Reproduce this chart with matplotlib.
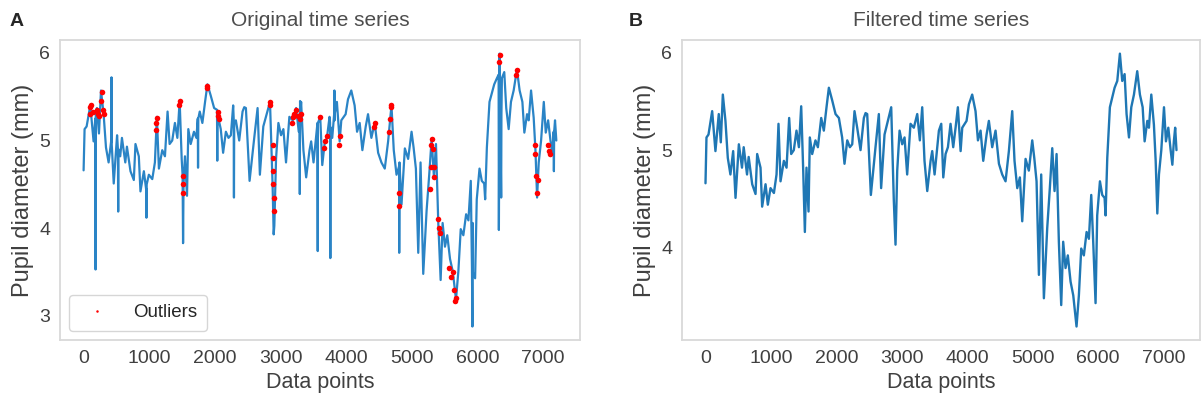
import numpy as np
import matplotlib
matplotlib.use("Agg")
import matplotlib.pyplot as plt
import seaborn as sns

# filtered pupil trace (index, mm)
filt_idx = [0, 15, 46, 102, 152, 203, 234, 265, 305, 341, 381, 423, 459, 510, 558, 584,
            635, 660, 714, 765, 790, 841, 866, 918, 953, 994, 1046, 1086, 1116, 1147, 1198,
            1239, 1279, 1310, 1350, 1391, 1428, 1463, 1494, 1519, 1544, 1575, 1595, 1631,
            1681, 1718, 1769, 1809, 1850, 1886, 1937, 1988, 2039, 2089, 2125, 2167, 2207,
            2243, 2278, 2319, 2370, 2421, 2447, 2472, 2528, 2599, 2650, 2685, 2737, 2788,
            2839, 2879, 2905, 2931, 2967, 3007, 3043, 3083, 3134, 3185, 3237, 3277, 3313,
            3348, 3390, 3441, 3466, 3502, 3568, 3604, 3635, 3670, 3706, 3746, 3787, 3823,
            3858, 3900, 3925, 3991, 4027, 4077, 4128, 4165, 4205, 4246, 4297, 4332, 4383,
            4434, 4486, 4536, 4587, 4638, 4689, 4724, 4766, 4806, 4842, 4893, 4943, 4995,
            5026, 5061, 5097, 5132, 5173, 5224, 5264, 5301, 5336, 5367, 5402, 5438, 5468,
            5504, 5539, 5581, 5622, 5672, 5708, 5744, 5784, 5826, 5861, 5897, 5927, 5963,
            5988, 6030, 6065, 6101, 6116, 6142, 6182, 6218, 6254, 6295, 6335, 6371, 6407,
            6437, 6474, 6509, 6550, 6600, 6641, 6683, 6713, 6754, 6779, 6815, 6855, 6882,
            6907, 6932, 6968, 7009, 7039, 7075, 7111, 7137, 7160, 7180, 7200]
filt_val = [4.66, 5.13, 5.16, 5.40, 4.99, 5.37, 5.08, 5.57, 5.30, 4.92, 4.75, 4.99, 4.51,
            5.06, 4.82, 5.03, 4.75, 4.93, 4.65, 4.55, 4.96, 4.82, 4.42, 4.65, 4.44, 4.61,
            4.56, 4.75, 5.27, 4.68, 4.89, 4.82, 5.33, 4.96, 5.00, 5.20, 5.03, 5.45, 4.79,
            4.16, 4.82, 4.37, 5.13, 4.96, 5.10, 5.03, 5.33, 5.20, 5.44, 5.64, 5.51, 5.37,
            5.33, 5.13, 4.86, 5.10, 5.03, 5.06, 5.40, 5.23, 5.00, 5.33, 5.38, 5.37, 4.54,
            5.03, 5.37, 4.61, 5.16, 5.30, 5.44, 4.48, 4.03, 4.79, 5.20, 5.06, 5.13, 4.75,
            5.27, 5.23, 5.37, 5.10, 5.44, 4.89, 4.58, 4.89, 4.99, 4.75, 5.20, 5.27, 4.72,
            4.96, 5.03, 5.27, 5.03, 5.23, 5.44, 4.99, 5.23, 5.30, 5.47, 5.57, 5.40, 5.10,
            5.20, 4.89, 5.16, 5.30, 5.03, 5.20, 4.86, 4.75, 4.68, 4.99, 5.40, 4.89, 4.61,
            4.72, 4.27, 4.91, 4.79, 5.10, 4.92, 4.68, 3.72, 4.75, 3.48, 4.20, 4.61, 5.02,
            4.58, 4.96, 4.06, 3.41, 4.06, 3.79, 3.92, 3.65, 3.51, 3.19, 3.51, 3.99, 3.92,
            4.16, 4.09, 4.54, 4.06, 3.43, 4.33, 4.68, 4.54, 4.51, 4.33, 4.92, 5.44, 5.54,
            5.64, 5.71, 5.99, 5.71, 5.78, 5.37, 5.13, 5.44, 5.57, 5.81, 5.57, 5.44, 5.09,
            5.30, 5.23, 5.57, 5.26, 4.89, 4.35, 4.75, 5.00, 5.44, 5.09, 5.23, 5.00, 4.85,
            5.09, 5.23, 5.00]

# artefact spikes present only in the original trace (panel A)
spike_idx = [178, 182, 186, 421, 425, 429, 523, 527, 531, 953, 957, 961, 1508, 1515, 1522,
             1739, 1743, 1747, 2032, 2036, 2040, 2286, 2290, 2294, 2895, 3289, 3293, 3297,
             3301, 3562, 3566, 3570, 3754, 3758, 3762, 3816, 3820, 3824, 4803, 4807, 4811,
             5915, 5922, 5928, 6321, 6325, 6360, 6364, 7159, 7163, 7167]
spike_val = [5.25, 3.53, 5.30, 5.00, 5.72, 4.95, 4.90, 4.19, 4.90, 4.45, 4.12, 4.50, 4.60,
             3.83, 4.50, 5.25, 4.69, 5.25, 5.35, 4.77, 5.30, 5.25, 4.35, 5.20, 3.93, 5.30,
             4.39, 5.45, 5.30, 5.20, 3.74, 5.20, 5.20, 3.66, 5.15, 5.30, 5.57, 5.30, 4.70,
             3.72, 4.75, 3.55, 2.88, 3.50, 5.75, 3.98, 4.35, 5.30, 5.10, 4.65, 5.10]

# detected outliers (red dots in panel A)
out_idx = [90, 105, 120, 140, 200, 215, 240, 265, 280, 295, 310, 1105, 1110, 1116, 1455,
           1463, 1880, 1886, 2040, 2050, 2060, 2835, 2839, 2885, 2887, 2889, 2891, 2893,
           2895, 3170, 3190, 3210, 3237, 3260, 3290, 3313, 3600, 3660, 3680, 3700, 3890,
           3900, 4420, 4434, 4645, 4660, 4675, 4689, 4800, 4807, 1512, 1515, 1518, 5270,
           5285, 5295, 5301, 5315, 5330, 5336, 5405, 5420, 5435, 5570, 5600, 5620, 5640,
           5655, 5672, 6330, 6335, 6590, 6600, 6870, 6882, 6895, 6907, 6920, 7080, 7090,
           7100]
out_val = [5.30, 5.38, 5.40, 5.32, 5.35, 5.30, 5.28, 5.45, 5.55, 5.35, 5.30, 5.12, 5.20,
           5.26, 5.40, 5.45, 5.60, 5.62, 5.28, 5.32, 5.25, 5.41, 5.44, 4.95, 4.80, 4.65,
           4.50, 4.35, 4.20, 5.20, 5.27, 5.30, 5.35, 5.28, 5.25, 5.30, 5.27, 4.92, 5.00,
           5.05, 4.95, 5.05, 5.15, 5.20, 5.10, 5.25, 5.38, 5.40, 4.40, 4.25, 4.60, 4.50,
           4.40, 4.45, 4.70, 4.95, 5.02, 4.90, 4.70, 4.58, 4.10, 4.00, 3.95, 3.55, 3.45,
           3.50, 3.30, 3.17, 3.20, 5.90, 5.98, 5.75, 5.80, 4.95, 4.85, 4.60, 4.40, 4.55,
           4.95, 4.88, 4.85]

sns.set_style("white")
plt.rcParams['font.family'] = ['Liberation Sans', 'DejaVu Sans']

# original trace = filtered trace plus the spikes
orig_idx = np.concatenate([filt_idx, spike_idx])
orig_val = np.concatenate([filt_val, spike_val])
order = np.argsort(orig_idx, kind='stable')
orig_idx = orig_idx[order]
orig_val = orig_val[order]

fig = plt.figure(figsize=(12.04, 4.04), dpi=100)
ax1 = fig.add_axes([0.0498, 0.158, 0.4319, 0.743])
ax2 = fig.add_axes([0.5664, 0.158, 0.4303, 0.743])

ax1.plot(orig_idx, orig_val, color='#2a84c6', lw=1.6)
ax1.plot(out_idx, out_val, 'o', color='red', ms=4, mew=0, label='Outliers')
ax1.legend(loc='lower left', fontsize=13.5, markerscale=0.45, handletextpad=0.9,
           borderpad=0.5, frameon=True)
ax1.set_title('Original time series', fontsize=15, color='.3', pad=10)
ax1.set_yticks([3, 4, 5, 6])

ax2.plot(filt_idx, filt_val, color='#1f77b4', lw=1.7)
ax2.set_title('Filtered time series', fontsize=15, color='.3', pad=10)
ax2.set_yticks([4, 5, 6])

for ax in (ax1, ax2):
    ax.set_xticks([0, 1000, 2000, 3000, 4000, 5000, 6000, 7000])
    ax.set_xlabel('Data points', fontsize=15.5, color='.25')
    ax.set_ylabel('Pupil diameter (mm)', fontsize=17, color='.25')
    ax.tick_params(labelsize=14, colors='.25')
    for s in ax.spines.values():
        s.set_color('.85')
        s.set_linewidth(1.3)

fig.text(0.008, 0.935, 'A', fontsize=14, fontweight='bold')
fig.text(0.522, 0.935, 'B', fontsize=14, fontweight='bold')

fig.savefig('out.png', dpi=100)
